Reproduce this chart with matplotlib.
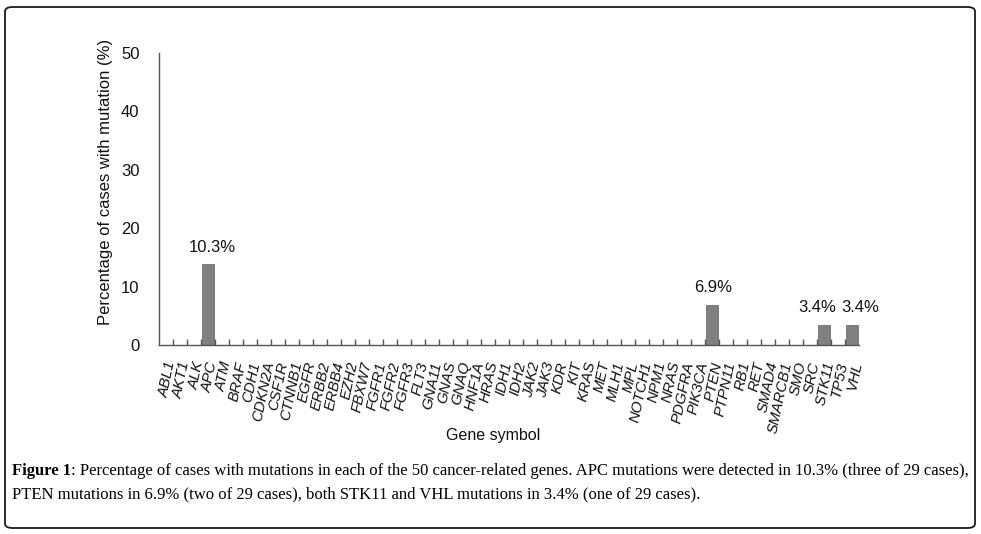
import matplotlib
matplotlib.use("Agg")
import matplotlib.pyplot as plt
from matplotlib.patches import FancyBboxPatch
import matplotlib.transforms as mtransforms

genes = ["ABL1", "AKT1", "ALK", "APC", "ATM", "BRAF", "CDH1", "CDKN2A", "CSF1R",
         "CTNNB1", "EGFR", "ERBB2", "ERBB4", "EZH2", "FBXW7", "FGFR1", "FGFR2",
         "FGFR3", "FLT3", "GNA11", "GNAS", "GNAQ", "HNF1A", "HRAS", "IDH1", "IDH2",
         "JAK2", "JAK3", "KDR", "KIT", "KRAS", "MET", "MLH1", "MPL", "NOTCH1",
         "NPM1", "NRAS", "PDGFRA", "PIK3CA", "PTEN", "PTPN11", "RB1", "RET",
         "SMAD4", "SMARCB1", "SMO", "SRC", "STK11", "TP53", "VHL"]
mutated = {"APC": 13.8, "PTEN": 6.9, "STK11": 3.4, "VHL": 3.4}
values = [mutated.get(g, 0.0) for g in genes]
label_genes = ["APC", "PTEN", "STK11", "VHL"]
label_texts = ["10.3%", "6.9%", "3.4%", "3.4%"]
label_dx = [3, 1, -5, 6]  # offsets in points to avoid overlap

W, H = 981, 534
fig = plt.figure(figsize=(W / 100, H / 100), dpi=100)
plt.rcParams['font.family'] = ['Liberation Sans', 'DejaVu Sans']

# border
border = FancyBboxPatch((5 / W, 1 - 528 / H), 970 / W, 521 / H,
                        boxstyle="round,pad=0,rounding_size=0.008",
                        transform=fig.transFigure, fill=False,
                        edgecolor='#1a1a1a', linewidth=1.3)
fig.patches.append(border)

ax = fig.add_axes([159 / W, 1 - 345 / H, 700 / W, 292 / H])
x = list(range(len(genes)))
ax.bar(x, values, width=0.88, color='#808080', edgecolor='#707070', linewidth=0.6)
ax.set_xlim(-0.5, len(genes) - 0.5)
ax.set_ylim(0, 50)

for sp in ['top', 'right']:
    ax.spines[sp].set_visible(False)
for sp in ['left', 'bottom']:
    ax.spines[sp].set_color('#555555')
    ax.spines[sp].set_linewidth(1.0)

ax.set_yticks([0, 10, 20, 30, 40, 50])
ax.tick_params(axis='y', length=0, width=0, pad=14, labelsize=12, colors='#111111')

# x ticks: marks at category boundaries, labels at centers
ax.set_xticks([i - 0.5 for i in range(1, len(genes))], minor=True)
ax.tick_params(axis='x', which='minor', direction='in', length=4, color='#555555', width=1)
ax.set_xticks(x)
ax.set_xticklabels(genes, rotation=78, ha='right', va='center',
                   rotation_mode='anchor', fontstyle='italic', fontsize=10.8,
                   color='#111111')
ax.tick_params(axis='x', which='major', length=0, width=0, pad=12)
offset = mtransforms.ScaledTranslation(4 / 72, 0, fig.dpi_scale_trans)
for lbl in ax.get_xticklabels():
    lbl.set_transform(lbl.get_transform() + offset)

ax.set_ylabel("Percentage of cases with mutation (%)", fontsize=12, color='#111111')
ax.yaxis.set_label_coords(-0.066, 0.558)
ax.set_xlabel("Gene symbol", fontsize=11.5, color='#111111')
ax.xaxis.set_label_coords(0.477, -0.284)

for g, t, dx in zip(label_genes, label_texts, label_dx):
    i = genes.index(g)
    ax.annotate(t, (i, values[i]), xytext=(dx, 7), textcoords='offset points',
                ha='center', va='bottom', fontsize=12, color='#111111')

# caption
line1_rest = (": Percentage of cases with mutations in each of the 50 cancer-related genes. "
              "APC mutations were detected in 10.3% (three of 29 cases),")
line2 = ("PTEN mutations in 6.9% (two of 29 cases), both STK11 and VHL mutations "
         "in 3.4% (one of 29 cases).")
cap_fs = 11.5
fam = ['Liberation Serif', 'DejaVu Serif']
t1 = fig.text(12 / W, 1 - 471 / H, "Figure 1", fontweight='bold', fontsize=cap_fs,
              family=fam, va='center', ha='left', color='#000000')
fig.canvas.draw()
r = fig.canvas.get_renderer()
bb = t1.get_window_extent(r)
t2 = fig.text(bb.x1 / W, 1 - 471 / H, line1_rest, fontsize=cap_fs, family=fam,
              va='center', ha='left', color='#000000')
t3 = fig.text(12 / W, 1 - 494 / H, line2, fontsize=cap_fs, family=fam,
              va='center', ha='left', color='#000000')
fig.canvas.draw()
total = t2.get_window_extent(r).x1 - 12
scale = 956 / total
for t in (t1, t2, t3):
    t.set_fontsize(cap_fs * scale)
fig.canvas.draw()
bb = t1.get_window_extent(r)
t2.set_position((bb.x1 / W, 1 - 471 / H))

fig.savefig("out.png", dpi=100)
